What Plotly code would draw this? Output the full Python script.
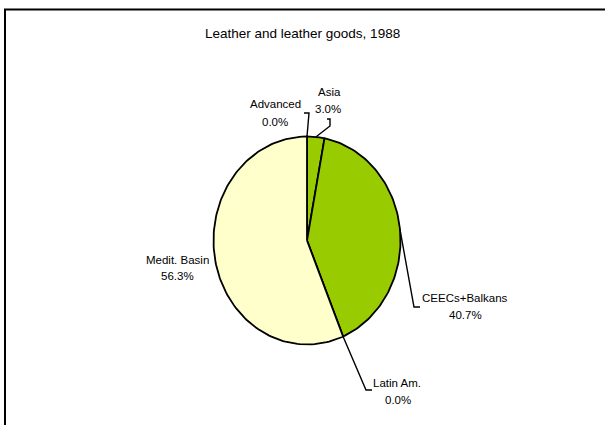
import numpy as np
import plotly.graph_objects as go

# Export shares by destination region, leather and leather goods, 1988
regions = ["Advanced", "Asia", "CEECs+Balkans", "Latin Am.", "Medit. Basin"]
shares = [0.0, 3.0, 40.7, 0.0, 56.3]
slice_colors = ["#99CC00", "#99CC00", "#99CC00", "#FFFFCC", "#FFFFCC"]
title_text = "Leather and leather goods, 1988"

# Layout in pixel space (canvas 605 x 425, y pointing down)
W, H = 605, 425
CX, CY = 307.0, 240.5        # pie centre
RX, RY = 93.5, 104.0         # pie semi-axes (chart is stretched vertically)

# Label placement: name line centre, percent line centre
label_pos = {
    "Advanced": ((275, 104), (275, 121.5)),
    "Asia": ((329, 91.5), (328, 108.5)),
    "CEECs+Balkans": ((465, 298), (465, 315)),
    "Latin Am.": ((397, 383), (398, 399.5)),
    "Medit. Basin": ((177, 260), (177, 276)),
}
# Leader-line elbows (from slice edge towards the label)
leader_elbows = {
    "Advanced": [(309, 113), (304, 113)],
    "Asia": [(330, 126), (330, 119), (327, 119)],
    "CEECs+Balkans": [(414, 307), (420, 307)],
    "Latin Am.": [(366, 390), (372, 390)],
}


def edge_point(frac, scale=1.0):
    ang = 2 * np.pi * frac
    return CX + scale * RX * np.sin(ang), CY - scale * RY * np.cos(ang)


fig = go.Figure()

total = sum(shares)
start = 0.0
mid_fracs = {}
for name, val, col in zip(regions, shares, slice_colors):
    f0 = start / total
    f1 = (start + val) / total
    mid_fracs[name] = (f0 + f1) / 2
    n = max(2, int(np.ceil((f1 - f0) * 240)))
    t = np.linspace(f0, f1, n)
    xs = [CX] + list(CX + RX * np.sin(2 * np.pi * t)) + [CX]
    ys = [CY] + list(CY - RY * np.cos(2 * np.pi * t)) + [CY]
    fig.add_trace(go.Scatter(
        x=xs, y=ys, mode="lines", fill="toself", fillcolor=col,
        line=dict(color="#000000", width=1.8), hoverinfo="skip",
        showlegend=False, name=name,
    ))
    start += val

# Leader lines
for name, elbows in leader_elbows.items():
    x0, y0 = edge_point(mid_fracs[name])
    xs = [x0] + [p[0] for p in elbows]
    ys = [y0] + [p[1] for p in elbows]
    fig.add_trace(go.Scatter(
        x=xs, y=ys, mode="lines", line=dict(color="#000000", width=1.4),
        hoverinfo="skip", showlegend=False,
    ))

font = dict(family="Liberation Sans, Arial, sans-serif", size=11.5, color="#000000")
annotations = []
for name, val in zip(regions, shares):
    (nx, ny), (px, py) = label_pos[name]
    annotations.append(dict(x=nx, y=ny, xref="x", yref="y", text=name,
                            showarrow=False, font=font,
                            xanchor="center", yanchor="middle"))
    annotations.append(dict(x=px, y=py, xref="x", yref="y", text=f"{val:.1f}%",
                            showarrow=False, font=font,
                            xanchor="center", yanchor="middle"))
annotations.append(dict(x=302, y=33, xref="x", yref="y", text=title_text,
                        showarrow=False,
                        font=dict(family="Liberation Sans, Arial, sans-serif",
                                  size=13.5, color="#000000"),
                        xanchor="center", yanchor="middle"))

fig.update_layout(
    width=W, height=H,
    margin=dict(l=0, r=0, t=0, b=0),
    paper_bgcolor="white", plot_bgcolor="white",
    xaxis=dict(range=[0, W], visible=False, fixedrange=True),
    yaxis=dict(range=[H, 0], visible=False, fixedrange=True),
    annotations=annotations,
    shapes=[dict(type="rect", xref="x", yref="y", x0=5, y0=9.5, x1=800, y1=700,
                 line=dict(color="#000000", width=2), layer="below")],
)

fig.write_html("out.html")
